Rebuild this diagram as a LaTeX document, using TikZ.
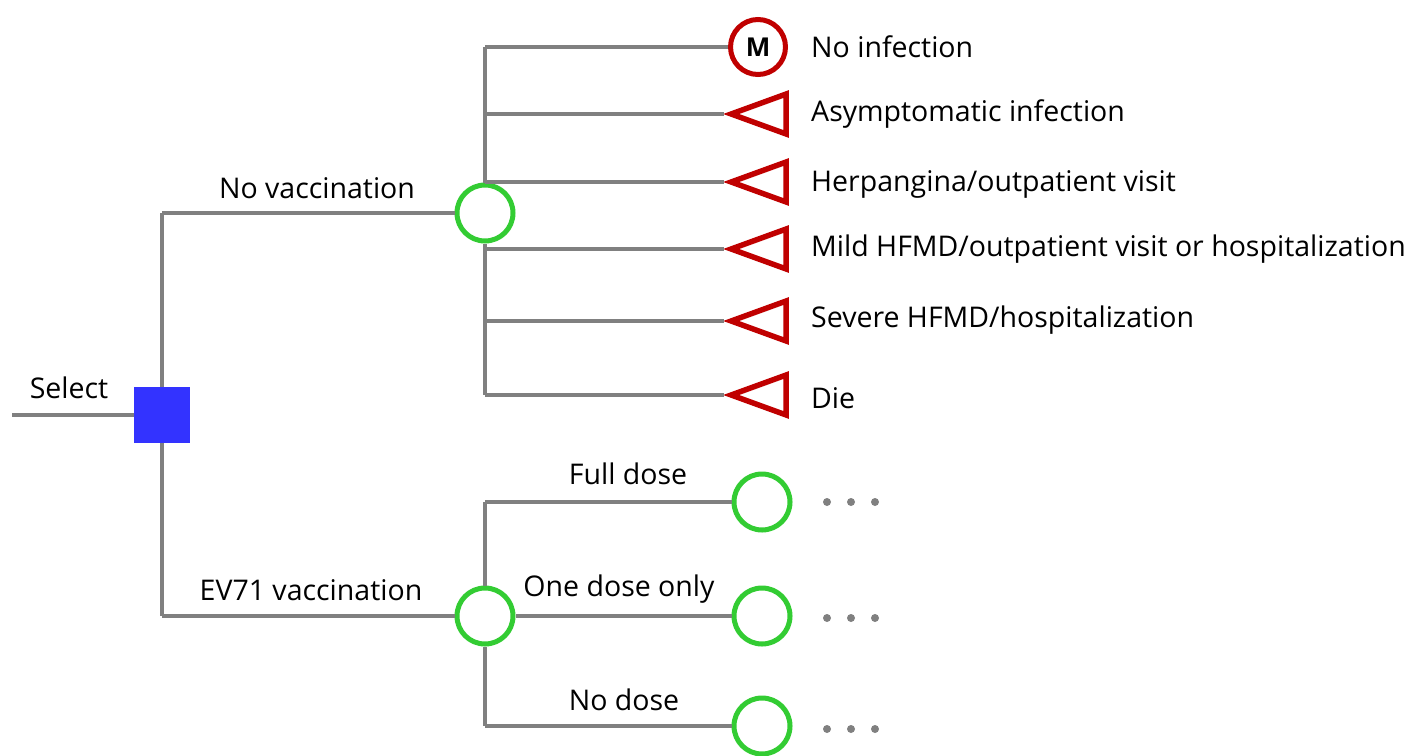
\documentclass[tikz,border=0pt]{standalone}
\usepackage{fontspec}
\setmainfont{Open Sans}
\usetikzlibrary{shapes.geometric}
\definecolor{lgrey}{HTML}{808080}
\definecolor{cgreen}{HTML}{33CC33}
\definecolor{cred}{HTML}{C00000}
\definecolor{cblue}{HTML}{3333FF}
\tikzset{
  br/.style={draw=lgrey,line width=4pt},
  chance/.style={circle,draw=cgreen,line width=5pt,minimum size=56pt,inner sep=0pt},
  markov/.style={circle,draw=cred,line width=5pt,minimum size=55pt,inner sep=0pt,font=\fontsize{26}{28}\selectfont\bfseries},
  term/.style={isosceles triangle,shape border rotate=180,isosceles triangle stretches,draw=cred,line width=5.5pt,minimum width=40pt,minimum height=55pt,inner sep=0pt,anchor=apex},
  decision/.style={rectangle,fill=cblue,minimum size=56pt,inner sep=0pt},
  lbl/.style={font=\fontsize{28.5}{32}\selectfont,inner sep=0pt},
  dot/.style={circle,fill=lgrey,minimum size=8pt,inner sep=0pt}
}
\begin{document}
\begin{tikzpicture}[x=1pt,y=-1pt]
\useasboundingbox (0,0) rectangle (1415,755);
% decision
\coordinate (start) at (12,415);
\node[decision] (dec) at (162,415) {};
\coordinate (up) at (162,213);
\coordinate (down) at (162,616);
\draw[br] (start) -- (dec.west);
\draw[br] (dec.north) -- (up);
\draw[br] (dec.south) -- (down);
\node[lbl] at (69,388) {Select};
% no vaccination
\node[chance] (nv) at (485,213) {};
\draw[br] (up) -- (nv.west);
\node[lbl] at (317,188) {No vaccination};
\coordinate (nvtop) at (485,47);
\coordinate (nvbot) at (485,395);
\draw[br] (nv.north) -- (nvtop);
\draw[br] (nv.south) -- (nvbot);
\node[markov] (m) at (758,47) {M};
\draw[br] (nvtop) -- (m.west);
\foreach \y/\n in {114/t1,182/t2,249/t3,321/t4,395/t5}{
  \node[term] (\n) at (724,\y) {};
  \coordinate (\n b) at (485,\y);
  \draw[br] (\n b) -- (\n.apex);
}
\node[lbl,anchor=west] at (811,47) {No infection};
\node[lbl,anchor=west] at (811,114) {Asymptomatic infection};
\node[lbl,anchor=west] at (811,184) {Herpangina/outpatient visit};
\node[lbl,anchor=west] at (811,249) {Mild HFMD/outpatient visit or hospitalization};
\node[lbl,anchor=west] at (811,320) {Severe HFMD/hospitalization};
\node[lbl,anchor=west] at (811,398) {Die};
% EV71 vaccination
\node[chance] (ev) at (485,616) {};
\draw[br] (down) -- (ev.west);
\node[lbl] at (311,590) {EV71 vaccination};
\coordinate (evtop) at (485,502);
\coordinate (evbot) at (485,726);
\draw[br] (ev.north) -- (evtop);
\draw[br] (ev.south) -- (evbot);
\node[chance] (fd) at (762,502) {};
\node[chance] (od) at (762,616) {};
\node[chance] (nd) at (762,726) {};
\draw[br] (evtop) -- (fd.west);
\draw[br] (ev.east) -- (od.west);
\draw[br] (evbot) -- (nd.west);
\node[lbl] at (628,474) {Full dose};
\node[lbl] at (619,589) {One dose only};
\node[lbl] at (624,700) {No dose};
\foreach \y/\n in {502/a,618/b,729/c}{
  \node[dot] (\n1) at (827,\y) {};
  \node[dot] (\n2) at (851,\y) {};
  \node[dot] (\n3) at (875,\y) {};
}
\end{tikzpicture}
\end{document}
